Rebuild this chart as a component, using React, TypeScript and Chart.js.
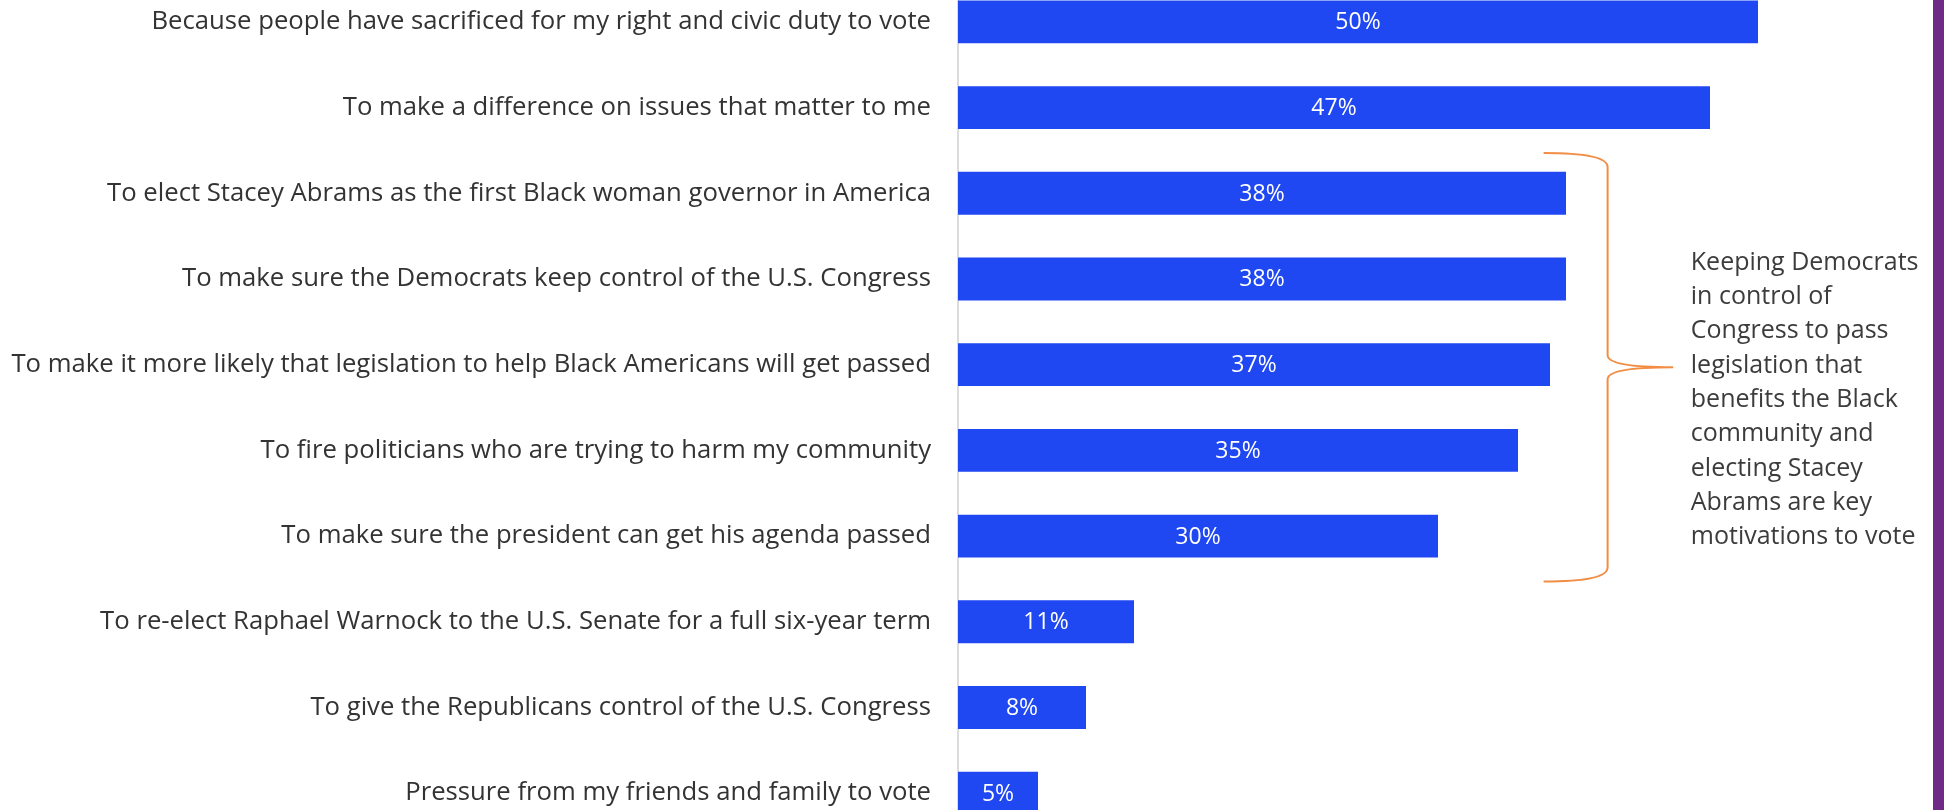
import React, { useEffect, useRef } from "react";
import { Chart, registerables } from "chart.js";

Chart.register(...registerables);

const categories: string[] = [
  "Because people have sacrificed for my right and civic duty to vote",
  "To make a difference on issues that matter to me",
  "To elect Stacey Abrams as the first Black woman governor in America",
  "To make sure the Democrats keep control of the U.S. Congress",
  "To make it more likely that legislation to help Black Americans will get passed",
  "To fire politicians who are trying to harm my community",
  "To make sure the president can get his agenda passed",
  "To re-elect Raphael Warnock to the U.S. Senate for a full six-year term",
  "To give the Republicans control of the U.S. Congress",
  "Pressure from my friends and family to vote",
];

const values: number[] = [50, 47, 38, 38, 37, 35, 30, 11, 8, 5];

const annotationLines: string[] = [
  "Keeping Democrats",
  "in control of",
  "Congress to pass",
  "legislation that",
  "benefits the Black",
  "community and",
  "electing Stacey",
  "Abrams are key",
  "motivations to vote",
];

const FONT = "'Open Sans', 'Liberation Sans', sans-serif";

const barLabelPlugin = {
  id: "barLabels",
  afterDatasetsDraw(chart: any) {
    const ctx = chart.ctx;
    const meta = chart.getDatasetMeta(0);
    ctx.save();
    ctx.fillStyle = "#ffffff";
    ctx.font = `23px ${FONT}`;
    ctx.textAlign = "center";
    ctx.textBaseline = "middle";
    meta.data.forEach((bar: any, i: number) => {
      const cx = (bar.x + bar.base) / 2;
      ctx.fillText(values[i] + "%", cx, bar.y + 1);
    });
    ctx.restore();
  },
};

const bracketPlugin = {
  id: "bracket",
  afterDraw(chart: any) {
    const ctx = chart.ctx;
    const xs = chart.scales.x;
    const ys = chart.scales.y;
    const x0 = xs.getPixelForValue(36.6);
    const xv = xs.getPixelForValue(40.6);
    const xt = xs.getPixelForValue(44.7);
    const yTop = ys.getPixelForValue(1.53);
    const yBot = ys.getPixelForValue(6.53);
    const yMid = (yTop + yBot) / 2;
    ctx.save();
    ctx.strokeStyle = "#f28d45";
    ctx.lineWidth = 2;
    ctx.beginPath();
    ctx.moveTo(x0, yTop);
    ctx.quadraticCurveTo(xv, yTop, xv, yTop + 14);
    ctx.lineTo(xv, yMid - 12);
    ctx.quadraticCurveTo(xv, yMid, xt, yMid);
    ctx.moveTo(xt, yMid);
    ctx.quadraticCurveTo(xv, yMid, xv, yMid + 12);
    ctx.lineTo(xv, yBot - 14);
    ctx.quadraticCurveTo(xv, yBot, x0, yBot);
    ctx.stroke();

    ctx.fillStyle = "#3c3c3c";
    ctx.font = `25px ${FONT}`;
    ctx.textAlign = "left";
    ctx.textBaseline = "middle";
    const tx = xs.getPixelForValue(45.8);
    const firstY = ys.getPixelForValue(2.81);
    const lh = 34.3;
    annotationLines.forEach((line, i) => {
      ctx.fillText(line, tx, firstY + i * lh);
    });
    ctx.restore();
  },
};

export default function App() {
  const canvasRef = useRef<HTMLCanvasElement | null>(null);

  useEffect(() => {
    if (!canvasRef.current) return;
    const chart = new Chart(canvasRef.current, {
      type: "bar",
      data: {
        labels: categories,
        datasets: [
          {
            data: values,
            backgroundColor: "#1f47f2",
            borderWidth: 0,
            barPercentage: 0.5,
            categoryPercentage: 1,
          },
        ],
      },
      options: {
        indexAxis: "y",
        animation: false,
        responsive: true,
        maintainAspectRatio: false,
        layout: { padding: { top: 0, bottom: 0, left: 0, right: 26 } },
        plugins: {
          legend: { display: false },
          tooltip: { enabled: false },
        },
        scales: {
          x: {
            display: false,
            min: 0,
            max: 60,
          },
          y: {
            afterFit(scale: any) {
              scale.width = 958;
              scale.paddingTop = 0;
              scale.paddingBottom = 0;
            },
            grid: { display: false, drawTicks: false },
            border: { display: true, color: "#dcdcdc", width: 2 },
            ticks: {
              autoSkip: false,
              padding: 27,
              color: "#333333",
              font: { family: FONT, size: 25.7 },
            },
          },
        },
      },
      plugins: [barLabelPlugin, bracketPlugin],
    });
    return () => chart.destroy();
  }, []);

  return (
    <div
      style={{
        position: "absolute",
        left: 0,
        top: 0,
        width: 1944,
        height: 810,
        overflow: "hidden",
        background: "#ffffff",
      }}
    >
      <div
        style={{
          position: "absolute",
          left: 0,
          top: -21,
          width: 1944,
          height: 857,
        }}
      >
        <canvas ref={canvasRef} />
      </div>
      <div
        style={{
          position: "absolute",
          left: 1933,
          top: 0,
          width: 11,
          height: 810,
          background: "#6e2a84",
        }}
      />
    </div>
  );
}
